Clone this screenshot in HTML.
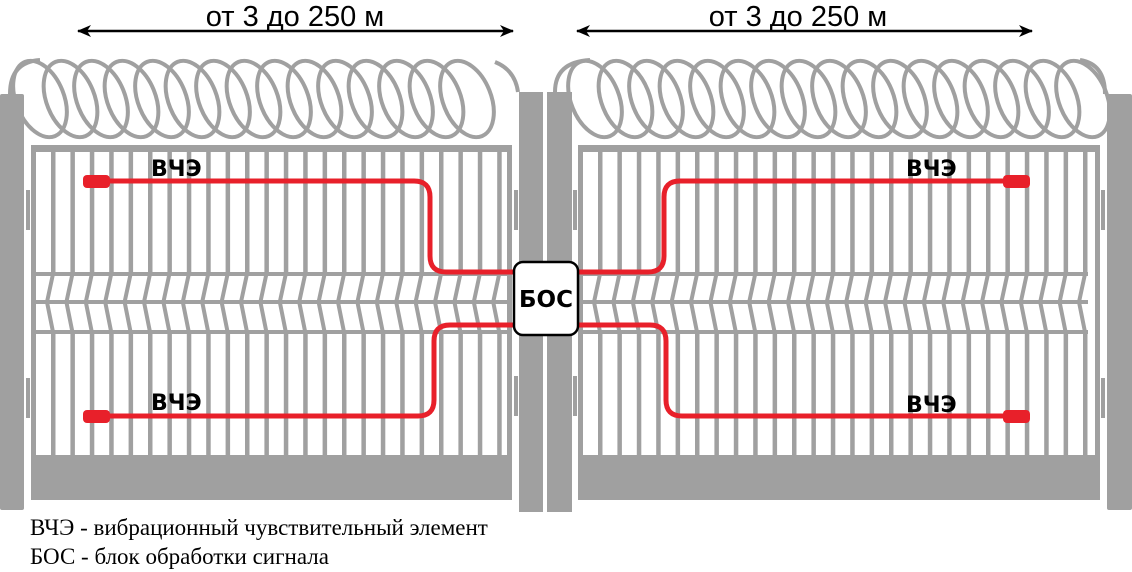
<!DOCTYPE html>
<html><head><meta charset="utf-8"><style>
html,body{margin:0;padding:0;background:#fff;width:1132px;height:572px;overflow:hidden}
svg{display:block}
</style></head><body>
<svg id="s" width="1132" height="572" viewBox="0 0 1132 572" xmlns="http://www.w3.org/2000/svg">
<defs>
<marker id="ah" viewBox="0 0 14 12" refX="13" refY="6" markerWidth="14" markerHeight="12" markerUnits="userSpaceOnUse" orient="auto-start-reverse"><path d="M0,0 L14,6 L0,12 L4,6 Z" fill="#000"/></marker>
</defs>
<g id="coils" fill="none" stroke="#a0a0a0" stroke-width="4"></g>
<g id="fence" fill="#a0a0a0"></g>
<g id="wires" fill="none" stroke="#a0a0a0" stroke-width="4"></g>
<g fill="#a0a0a0">
<rect x="0" y="94" width="24" height="416" rx="2"/>
<rect x="519" y="92" width="24" height="420"/>
<rect x="547" y="92" width="25" height="420"/>
<rect x="1107" y="94" width="25" height="416" rx="2"/>
<rect x="26" y="190" width="4" height="40"/><rect x="26" y="378" width="4" height="40"/>
<rect x="514" y="190" width="4" height="40"/><rect x="514" y="376" width="4" height="40"/>
<rect x="573" y="190" width="4" height="40"/><rect x="573" y="376" width="4" height="40"/>
<rect x="1101" y="190" width="4" height="40"/><rect x="1101" y="378" width="4" height="40"/>
</g>
<g fill="none" stroke="#e8202a" stroke-width="5" stroke-linecap="round">
<path d="M105,181 H414 Q430,181 430,197 V256 Q430,272 446,272 H515"/>
<path d="M105,416 H418 Q434,416 434,400 V341 Q434,325 450,325 H515"/>
<path d="M1010,181 H680 Q664,181 664,197 V256 Q664,272 648,272 H576"/>
<path d="M1010,416 H682 Q666,416 666,400 V341 Q666,325 650,325 H576"/>
</g>
<g fill="#e8202a">
<rect x="83" y="175" width="27" height="13" rx="4"/>
<rect x="83" y="410" width="27" height="13" rx="4"/>
<rect x="1003" y="175" width="27" height="13" rx="4"/>
<rect x="1003" y="410" width="27" height="13" rx="4"/>
</g>
<rect x="514" y="262" width="64" height="73" rx="9" fill="#fff" stroke="#000" stroke-width="2.5"/>
<g font-family="'DejaVu Sans','Liberation Sans',sans-serif" font-weight="bold" font-size="22" fill="#000">
<text x="546" y="307" text-anchor="middle" font-size="23">БОС</text>
<text x="151" y="176">ВЧЭ</text>
<text x="151" y="410">ВЧЭ</text>
<text x="906" y="176">ВЧЭ</text>
<text x="906" y="412">ВЧЭ</text>
</g>
<g stroke="#000" stroke-width="2.5">
<line x1="78" y1="31" x2="513" y2="31" marker-start="url(#ah)" marker-end="url(#ah)"/>
<line x1="577" y1="31" x2="1032" y2="31" marker-start="url(#ah)" marker-end="url(#ah)"/>
</g>
<g font-family="'Liberation Sans','DejaVu Sans',sans-serif" font-size="29" fill="#000" text-anchor="middle">
<text x="295" y="26">от 3 до 250 м</text>
<text x="798" y="26">от 3 до 250 м</text>
</g>
<g font-family="'Liberation Serif',serif" font-size="23" fill="#000">
<text x="30" y="535">ВЧЭ - вибрационный чувствительный элемент</text>
<text x="30" y="564">БОС - блок обработки сигнала</text>
</g>
</svg>
<script>
var NS="http://www.w3.org/2000/svg";
function el(p,t,a){var e=document.createElementNS(NS,t);for(var k in a)e.setAttribute(k,a[k]);p.appendChild(e);return e;}
var f=document.getElementById('fence'),w=document.getElementById('wires'),c=document.getElementById('coils');
function panel(x0,x1){
  el(f,'rect',{x:x0,y:145,width:x1-x0,height:7});
  el(f,'rect',{x:x0,y:145,width:5,height:355});
  el(f,'rect',{x:x1-5,y:145,width:5,height:355});
  el(f,'rect',{x:x0,y:455,width:x1-x0,height:45});
  for(var x=x0+22;x<x1-10;x+=19.4){
    el(f,'rect',{x:x-2,y:152,width:4.5,height:122});
    el(f,'rect',{x:x-2,y:332,width:4.5,height:124});
    el(w,'polyline',{points:(x)+',274 '+(x-6)+',302 '+(x)+',332'});
  }
  [274,302,332].forEach(function(y){el(f,'rect',{x:x0,y:y-2,width:x1-x0+(x0>560?-12:0),height:4});});
}
panel(31,512);panel(578,1100);
function coil(a,b){
  for(var x=a;x<=b;x+=30.5){
    el(c,'ellipse',{cx:x,cy:99,rx:24,ry:40,transform:'rotate(-22 '+x+' 99)'});
  }
}
coil(40,490);coil(595,1085);
el(c,'path',{d:'M10,94 Q10,62 40,60'});
el(c,'path',{d:'M1105,94 Q1105,64 1080,60'});
el(c,'path',{d:'M555,92 Q555,62 590,60'});
el(c,'path',{d:'M518,92 Q515,70 495,62'});
</script>
</body></html>
